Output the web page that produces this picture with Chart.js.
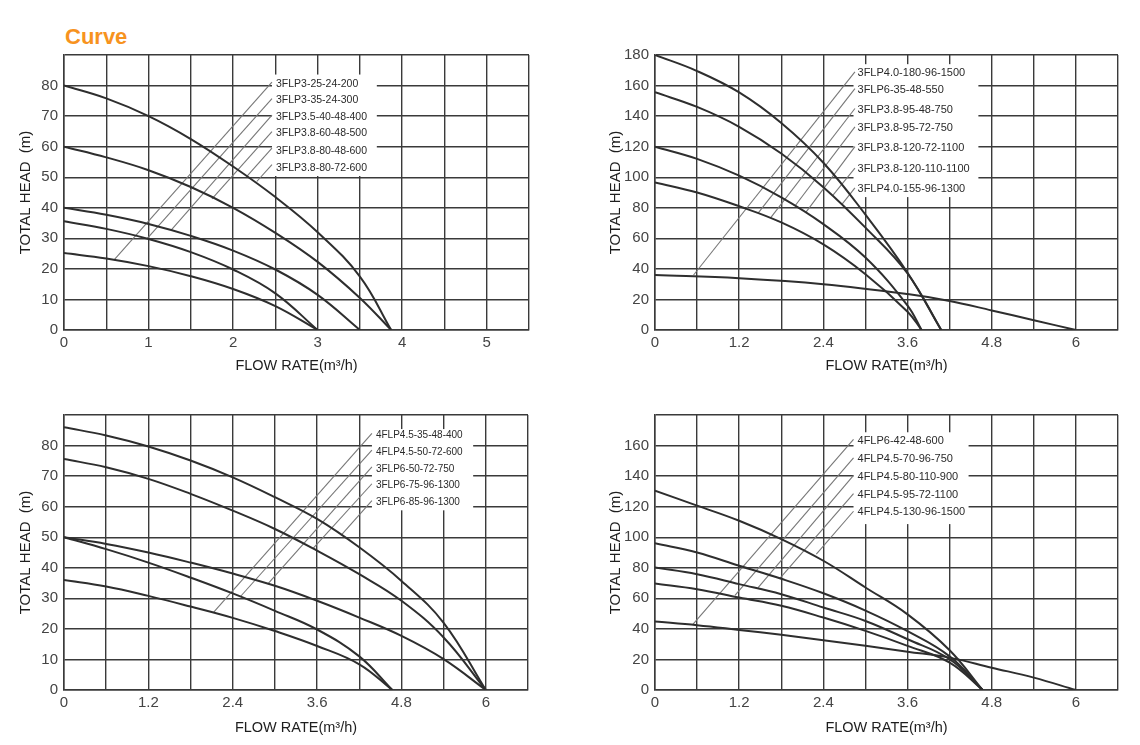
<!DOCTYPE html>
<html>
<head>
<meta charset="utf-8">
<title>Curve</title>
<script src="https://cdn.jsdelivr.net/npm/chart.js@4.4.1/dist/chart.umd.min.js"></script>
<style>
  html, body { margin: 0; padding: 0; background: #fff; }
  body { width: 1140px; height: 745px; position: relative; overflow: hidden; }
  .title { position: absolute; left: 65px; top: 24px; color: #f7931e; font: bold 22px "Liberation Sans", Arial, sans-serif; }
  .panel { position: absolute; width: 540px; height: 345px; }
</style>
</head>
<body>
<div class="title">Curve</div>
<div class="panel" style="left:0;top:40px"><canvas id="curveChart1"></canvas></div>
<div class="panel" style="left:590px;top:40px"><canvas id="curveChart2"></canvas></div>
<div class="panel" style="left:0;top:400px"><canvas id="curveChart3"></canvas></div>
<div class="panel" style="left:590px;top:400px"><canvas id="curveChart4"></canvas></div>

<script>
// Axis ticks
var flowTicksA = [0, 0.5, 1, 1.5, 2, 2.5, 3, 3.5, 4, 4.5, 5, 5.5];
var flowLabelsA = ['0', '', '1', '', '2', '', '3', '', '4', '', '5', ''];
var flowTicksB = [0, 0.6, 1.2, 1.8, 2.4, 3, 3.6, 4.2, 4.8, 5.4, 6, 6.6];
var flowLabelsB = ['0', '', '1.2', '', '2.4', '', '3.6', '', '4.8', '', '6', ''];
var headTicks90 = [0, 10, 20, 30, 40, 50, 60, 70, 80, 90];
var headLabels90 = ['0', '10', '20', '30', '40', '50', '60', '70', '80', ''];
var headTicks180 = [0, 20, 40, 60, 80, 100, 120, 140, 160, 180];
var headLabels180 = ['0', '20', '40', '60', '80', '100', '120', '140', '160', '180'];
var headLabels160 = ['0', '20', '40', '60', '80', '100', '120', '140', '160', ''];

// Chart 1 - 3FLP small models  [flow m3/h, head m]
var models1 = ['3FLP3-25-24-200', '3FLP3-35-24-300', '3FLP3.5-40-48-400', '3FLP3.8-60-48-500', '3FLP3.8-80-48-600', '3FLP3.8-80-72-600'];
var c1Head80 = [[0, 80], [0.5, 75.8], [1, 70], [1.5, 62.5], [2, 53.5], [2.5, 43.5], [3, 32], [3.5, 17.5], [3.87, 0]];
var c1Head60 = [[0, 60], [0.5, 56.5], [1, 52.3], [1.5, 46.8], [2, 40], [2.5, 31.8], [3, 22.3], [3.5, 10.5], [3.87, 0]];
var c1Head40 = [[0, 40], [0.5, 37.7], [1, 34.7], [1.5, 30.8], [2, 26], [2.5, 19.8], [3, 11.5], [3.5, 0]];
var c1Head36 = [[0, 35.6], [0.5, 33.1], [1, 29.8], [1.5, 25.5], [2, 19.8], [2.5, 12], [3, 0]];
var c1Head25 = [[0, 25.2], [0.5, 23.4], [1, 20.9], [1.5, 17.6], [2, 13.4], [2.5, 7.8], [3, 0]];
var c1LabelHead = [80.5, 75.1, 69.7, 64.3, 58.6, 53];
var c1Leaders = [[0.59, 22.9, 2.46, 81.1], [0.98, 29.8, 2.46, 75.7], [1.27, 32.8, 2.46, 70.3], [1.75, 42.9, 2.46, 64.9], [2.16, 50.2, 2.46, 59.5], [2.28, 48.6, 2.46, 54.1]];

// Chart 2 - 3FLP large models
var models2 = ['3FLP4.0-180-96-1500', '3FLP6-35-48-550', '3FLP3.8-95-48-750', '3FLP3.8-95-72-750', '3FLP3.8-120-72-1100', '3FLP3.8-120-110-1100', '3FLP4.0-155-96-1300'];
var c2Head180 = [[0, 180], [0.6, 169.5], [1.2, 155.5], [1.8, 135.5], [2.4, 109.5], [3, 75.5], [3.6, 37.5], [4.08, 0]];
var c2Head156 = [[0, 155.6], [0.6, 146], [1.2, 133], [1.8, 115.5], [2.4, 93.5], [3, 67], [3.6, 37], [4.08, 0]];
var c2Head120 = [[0, 120], [0.6, 112], [1.2, 101], [1.8, 86.8], [2.4, 69.3], [3, 47.4], [3.6, 16], [3.8, 0]];
var c2Head97 = [[0, 96.6], [0.6, 90], [1.2, 81], [1.8, 70.4], [2.4, 56], [3, 36.5], [3.6, 12], [3.8, 0]];
var c2Head36 = [[0, 36], [1.2, 33.9], [2.4, 30], [3.6, 23.5], [4.2, 19], [4.8, 12.8], [5.4, 6.4], [6, 0]];
var c2LabelHead = [168, 157.2, 144, 132.2, 119.2, 105.4, 92.3];
var c2Leaders = [[0.55, 36, 2.85, 169], [1.47, 76.5, 2.85, 158], [1.65, 73.5, 2.85, 145], [2.0, 81.5, 2.85, 133], [2.15, 77, 2.85, 120], [2.54, 88.5, 2.85, 106], [2.67, 82.5, 2.85, 93]];

// Chart 3 - 4FLP / 3FLP6 models
var models3 = ['4FLP4.5-35-48-400', '4FLP4.5-50-72-600', '3FLP6-50-72-750', '3FLP6-75-96-1300', '3FLP6-85-96-1300'];
var c3Head86 = [[0, 86], [0.6, 83.3], [1.2, 79.7], [1.8, 75.1], [2.4, 69.6], [3, 63.1], [3.6, 56], [4.2, 46.7], [4.8, 35.7], [5.4, 22], [6, 0]];
var c3Head76 = [[0, 75.6], [0.6, 72.9], [1.2, 69.1], [1.8, 64.2], [2.4, 58.7], [3, 52.7], [3.6, 45.6], [4.2, 37.9], [4.8, 29.2], [5.4, 17.2], [6, 0]];
var c3Head50a = [[0, 50], [0.6, 47.8], [1.2, 45], [1.8, 41.7], [2.4, 38.1], [3, 34.1], [3.6, 29.2], [4.2, 23.7], [4.8, 17.7], [5.4, 10.1], [6, 0]];
var c3Head50b = [[0, 50], [0.6, 46.1], [1.2, 41.7], [1.8, 36.8], [2.4, 31.6], [3, 25.9], [3.6, 19.8], [4.2, 11], [4.67, 0]];
var c3Head36 = [[0, 36], [0.6, 33.9], [1.2, 30.8], [1.8, 27.3], [2.4, 23.6], [3, 19.3], [3.6, 14.4], [4.2, 8.4], [4.67, 0]];
var c3LabelHead = [83.4, 77.8, 72.3, 66.9, 61.4];
var c3Leaders = [[2.13, 25.5, 4.38, 84], [2.51, 30.6, 4.38, 78.5], [2.9, 34.7, 4.38, 73], [3.54, 46.3, 4.38, 67.5], [3.94, 50.6, 4.38, 62]];

// Chart 4 - 4FLP4.5 / 4FLP6 models
var models4 = ['4FLP6-42-48-600', '4FLP4.5-70-96-750', '4FLP4.5-80-110-900', '4FLP4.5-95-72-1100', '4FLP4.5-130-96-1500'];
var c4Head131 = [[0, 130.5], [0.6, 120.7], [1.2, 110.8], [1.8, 98.8], [2.4, 84.6], [3, 67.1], [3.6, 49.5], [4.2, 26], [4.67, 0]];
var c4Head96 = [[0, 96], [0.6, 90], [1.2, 81.3], [1.8, 72.8], [2.4, 63.3], [3, 52], [3.6, 38.5], [4.2, 22], [4.67, 0]];
var c4Head80 = [[0, 80.2], [0.6, 75.8], [1.2, 69.3], [1.8, 62.7], [2.4, 54], [3, 45.2], [3.6, 33.2], [4.2, 20.1], [4.67, 0]];
var c4Head70 = [[0, 69.7], [0.6, 66], [1.2, 60.5], [1.8, 55.1], [2.4, 47.4], [3, 38.7], [3.6, 28.9], [4.2, 17.9], [4.67, 0]];
var c4Head45 = [[0, 44.8], [0.6, 42.4], [1.2, 39.3], [1.8, 36.1], [2.4, 32.6], [3, 28.9], [3.6, 25.1], [4.2, 21.2], [4.8, 14.6], [5.4, 8.1], [6, 0]];
var c4LabelHead = [163.3, 151.3, 139.7, 127.9, 116.3];
var c4Leaders = [[0.54, 43, 2.83, 164], [1.14, 62, 2.83, 152], [1.47, 67, 2.83, 140.5], [1.78, 73, 2.83, 128.5], [2.3, 89, 2.83, 117]];


Chart.defaults.font.family = '"Liberation Sans", Arial, sans-serif';

var gridColor = '#3a3a3a';
var curveColor = '#2e2e2e';
var leaderColor = '#777777';

// white label box with the model names, drawn over the grid
var modelTags = {
  id: 'modelTags',
  beforeDatasetsDraw: function (chart, args, opts) {
    var ctx = chart.ctx;
    var x = chart.scales.x, y = chart.scales.y;
    var l = x.getPixelForValue(opts.box[0]), r = x.getPixelForValue(opts.box[1]);
    var t = y.getPixelForValue(opts.box[2]), b = y.getPixelForValue(opts.box[3]);
    ctx.save();
    ctx.fillStyle = '#fff';
    ctx.fillRect(l, t, r - l, b - t);
    ctx.fillStyle = '#2a2a2a';
    ctx.font = opts.font;
    ctx.textBaseline = 'middle';
    opts.names.forEach(function (name, i) {
      ctx.fillText(name, l + 4, y.getPixelForValue(opts.heads[i]));
    });
    ctx.restore();
  }
};

function toPoints(arr) {
  return arr.map(function (p) { return { x: p[0], y: p[1] }; });
}

function drawPumpChart(canvasId, cfg) {
  var el = document.getElementById(canvasId);
  if (!el) {
    console.error('Chart element not found: ' + canvasId);
    return;
  }

  var datasets = [];
  cfg.curves.forEach(function (c) {
    datasets.push({
      data: toPoints(c),
      showLine: true,
      borderColor: curveColor,
      borderWidth: 2,
      pointRadius: 0,
      tension: 0.4
    });
  });
  cfg.leaders.forEach(function (ld) {
    datasets.push({
      data: [{ x: ld[0], y: ld[1] }, { x: ld[2], y: ld[3] }],
      showLine: true,
      borderColor: leaderColor,
      borderWidth: 1.1,
      pointRadius: 0
    });
  });

  return new Chart(el.getContext('2d'), {
    type: 'scatter',
    data: { datasets: datasets },
    plugins: [modelTags],
    options: {
      responsive: true,
      maintainAspectRatio: false,
      animation: false,
      events: [],
      layout: { padding: { left: 0, right: cfg.padRight, top: 14, bottom: 0 } },
      plugins: {
        legend: { display: false },
        tooltip: { enabled: false },
        modelTags: { names: cfg.names, heads: cfg.labelHeads, box: cfg.box, font: cfg.tagFont }
      },
      scales: {
        x: {
          type: 'linear',
          min: 0,
          max: cfg.xTicks[cfg.xTicks.length - 1],
          afterBuildTicks: function (s) {
            s.ticks = cfg.xTicks.map(function (v) { return { value: v }; });
          },
          afterFit: function (s) { s.height = cfg.xHeight; },
          grid: { color: gridColor, lineWidth: 1.4, drawTicks: false },
          border: { color: gridColor, width: 1.5 },
          ticks: {
            autoSkip: false,
            maxRotation: 0,
            padding: 4,
            color: '#444',
            font: { size: 15 },
            callback: function (v, i) { return cfg.xLabels[i]; }
          },
          title: {
            display: true,
            text: 'FLOW RATE(m³/h)',
            color: '#1e1e1e',
            font: { size: 14.5 },
            padding: { top: 0, bottom: cfg.xTitlePad }
          }
        },
        y: {
          type: 'linear',
          min: 0,
          max: cfg.yTicks[cfg.yTicks.length - 1],
          afterBuildTicks: function (s) {
            s.ticks = cfg.yTicks.map(function (v) { return { value: v }; });
          },
          afterFit: function (s) { s.width = cfg.yWidth; },
          grid: { color: gridColor, lineWidth: 1.4, drawTicks: false },
          border: { color: gridColor, width: 1.5 },
          ticks: {
            autoSkip: false,
            padding: 6,
            color: '#444',
            font: { size: 15 },
            callback: function (v, i) { return cfg.yLabels[i]; }
          },
          title: {
            display: true,
            text: 'TOTAL HEAD  (m)',
            color: '#1e1e1e',
            font: { size: 15 },
            padding: { top: 17, bottom: 0 }
          }
        }
      }
    }
  });
}

drawPumpChart('curveChart1', {
  curves: [c1Head80, c1Head60, c1Head40, c1Head36, c1Head25],
  leaders: c1Leaders,
  names: models1,
  labelHeads: c1LabelHead,
  box: [2.46, 3.7, 83.6, 50.4],
  tagFont: '10.5px "Liberation Sans", Arial, sans-serif',
  xTicks: flowTicksA, xLabels: flowLabelsA,
  yTicks: headTicks90, yLabels: headLabels90,
  yWidth: 64, xHeight: 55, padRight: 11, xTitlePad: 10
});

drawPumpChart('curveChart2', {
  curves: [c2Head180, c2Head156, c2Head120, c2Head97, c2Head36],
  leaders: c2Leaders,
  names: models2,
  labelHeads: c2LabelHead,
  box: [2.83, 4.61, 174, 87],
  tagFont: '11px "Liberation Sans", Arial, sans-serif',
  xTicks: flowTicksB, xLabels: flowLabelsB,
  yTicks: headTicks180, yLabels: headLabels180,
  yWidth: 65, xHeight: 55, padRight: 12, xTitlePad: 10
});

drawPumpChart('curveChart3', {
  curves: [c3Head86, c3Head76, c3Head50a, c3Head50b, c3Head36],
  leaders: c3Leaders,
  names: models3,
  labelHeads: c3LabelHead,
  box: [4.38, 5.82, 85.4, 58.8],
  tagFont: '10px "Liberation Sans", Arial, sans-serif',
  xTicks: flowTicksB, xLabels: flowLabelsB,
  yTicks: headTicks90, yLabels: headLabels90,
  yWidth: 64, xHeight: 55, padRight: 12, xTitlePad: 8
});

drawPumpChart('curveChart4', {
  curves: [c4Head131, c4Head96, c4Head80, c4Head70, c4Head45],
  leaders: c4Leaders,
  names: models4,
  labelHeads: c4LabelHead,
  box: [2.83, 4.47, 168.7, 108.6],
  tagFont: '11px "Liberation Sans", Arial, sans-serif',
  xTicks: flowTicksB, xLabels: flowLabelsB,
  yTicks: headTicks180, yLabels: headLabels160,
  yWidth: 65, xHeight: 55, padRight: 12, xTitlePad: 8
});
</script>
</body>
</html>
